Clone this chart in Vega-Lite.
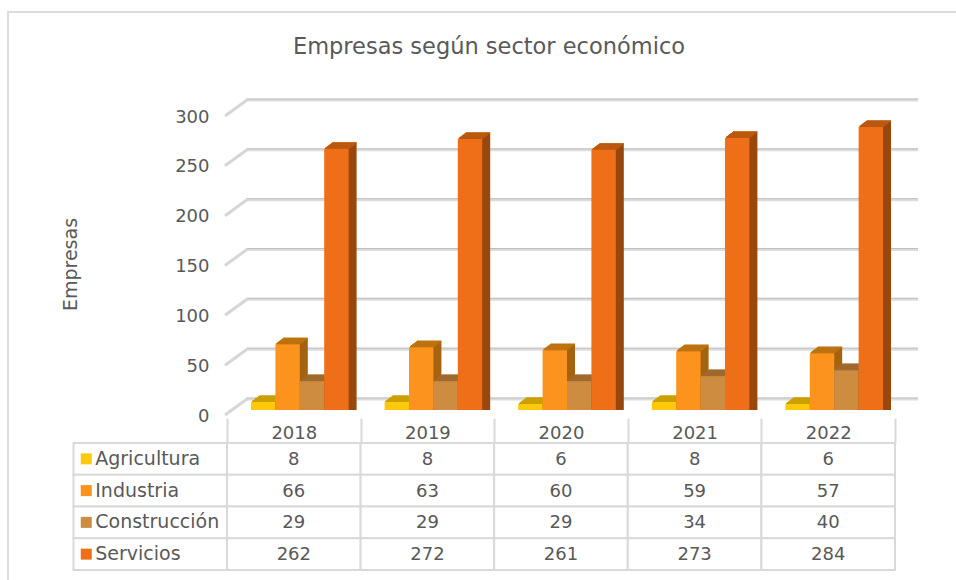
{"$schema":"https://vega.github.io/schema/vega-lite/v6.json","autosize":{"type":"none"},"width":950,"height":570,"padding":{"left":8,"top":12,"right":0,"bottom":0},"background":"white","view":{"stroke":"#dcdcdc","strokeWidth":2,"fill":"white"},"config":{"font":"DejaVu Sans","text":{"font":"DejaVu Sans"}},"title":{"text":"Empresas según sector económico","font":"DejaVu Sans","fontSize":22.5,"fontWeight":"normal","color":"#595959","anchor":"middle","frame":"group","offset":-46,"dx":6},
"datasets":{"d":[
{"year":"2018","sector":"Agricultura","empresas":8},{"year":"2018","sector":"Industria","empresas":66},{"year":"2018","sector":"Construcción","empresas":29},{"year":"2018","sector":"Servicios","empresas":262},
{"year":"2019","sector":"Agricultura","empresas":8},{"year":"2019","sector":"Industria","empresas":63},{"year":"2019","sector":"Construcción","empresas":29},{"year":"2019","sector":"Servicios","empresas":272},
{"year":"2020","sector":"Agricultura","empresas":6},{"year":"2020","sector":"Industria","empresas":60},{"year":"2020","sector":"Construcción","empresas":29},{"year":"2020","sector":"Servicios","empresas":261},
{"year":"2021","sector":"Agricultura","empresas":8},{"year":"2021","sector":"Industria","empresas":59},{"year":"2021","sector":"Construcción","empresas":34},{"year":"2021","sector":"Servicios","empresas":273},
{"year":"2022","sector":"Agricultura","empresas":6},{"year":"2022","sector":"Industria","empresas":57},{"year":"2022","sector":"Construcción","empresas":40},{"year":"2022","sector":"Servicios","empresas":284}],
"g":[{"level":0},{"level":50},{"level":100},{"level":150},{"level":200},{"level":250},{"level":300}],
"s":[{"sector":"Agricultura"},{"sector":"Industria"},{"sector":"Construcción"},{"sector":"Servicios"}]},
"layer":[
{"data":{"name":"g"},"encoding":{"x":{"datum":"back","type":"nominal","scale":{"type":"point","domain":["back","right"],"range":[238.5,910],"padding":0},"axis":null},"x2":{"datum":"right"},"y":{"field":"level","type":"quantitative","scale":{"domain":[0,300],"range":[398,99],"nice":false,"zero":false},"axis":null}},"layer":[{"mark":{"type":"rule","stroke":"#dcdcdc","strokeWidth":3,"yOffset":-11,"y2Offset":-11}},{"mark":{"type":"rule","stroke":"#c0c0c0","strokeWidth":1,"yOffset":-12,"y2Offset":-12}}]},
{"data":{"name":"g"},"mark":{"type":"rule","stroke":"#d6d6d6","strokeWidth":3,"yOffset":5,"y2Offset":-11},"encoding":{"x":{"datum":"front","type":"nominal","scale":{"type":"point","domain":["front","back"],"range":[217,239],"padding":0},"axis":null},"x2":{"datum":"back"},"y":{"field":"level","type":"quantitative","scale":{"domain":[0,300],"range":[398,99],"nice":false,"zero":false},"axis":null},"y2":{"field":"level"}}},
{"data":{"name":"d"},"encoding":{"x":{"field":"year","type":"nominal","scale":{"type":"band","paddingInner":0,"paddingOuter":0,"range":[219,887]},"axis":{"title":null,"orient":"bottom","offset":-164,"labelPadding":-19,"labelAngle":0,"labelFont":"DejaVu Sans","labelFontSize":18,"labelColor":"#595959","domain":false,"ticks":true,"tickBand":"extent","tickSize":25,"tickColor":"#d9d9d9","tickWidth":2,"grid":false}},"y":{"field":"empresas","type":"quantitative","stack":null,"scale":{"domain":[0,300],"range":[398,99],"nice":false,"zero":false},"axis":{"title":"Empresas","titleFont":"DejaVu Sans","titleFontSize":19,"titleFontWeight":"normal","titleColor":"#595959","titleX":-147,"titleY":252,"offset":-219,"labelFont":"DejaVu Sans","labelFontSize":18,"labelColor":"#595959","labelPadding":18,"labelOffset":6,"ticks":false,"domain":false,"grid":false,"values":[0,50,100,150,200,250,300]}}},
"layer":[
{"encoding":{"color":{"field":"sector","scale":{"domain":["Agricultura","Industria","Construcción","Servicios"],"range":["#A58000","#A5630F","#8C5A25","#99480D"]},"legend":null}},"layer":[
{"mark":{"type":"bar","yOffset":-6},"encoding":{"xOffset":{"field":"sector","scale":{"type":"band","domain":["Agricultura","Industria","Construcción","Servicios"],"range":[32,129.6],"paddingInner":0,"paddingOuter":0}}}},
{"mark":{"type":"bar","yOffset":-5.25},"encoding":{"xOffset":{"field":"sector","scale":{"type":"band","domain":["Agricultura","Industria","Construcción","Servicios"],"range":[31,128.6],"paddingInner":0,"paddingOuter":0}}}},
{"mark":{"type":"bar","yOffset":-4.5},"encoding":{"xOffset":{"field":"sector","scale":{"type":"band","domain":["Agricultura","Industria","Construcción","Servicios"],"range":[30,127.6],"paddingInner":0,"paddingOuter":0}}}},
{"mark":{"type":"bar","yOffset":-3.75},"encoding":{"xOffset":{"field":"sector","scale":{"type":"band","domain":["Agricultura","Industria","Construcción","Servicios"],"range":[29,126.6],"paddingInner":0,"paddingOuter":0}}}},
{"mark":{"type":"bar","yOffset":-3},"encoding":{"xOffset":{"field":"sector","scale":{"type":"band","domain":["Agricultura","Industria","Construcción","Servicios"],"range":[28,125.6],"paddingInner":0,"paddingOuter":0}}}},
{"mark":{"type":"bar","yOffset":-2.25},"encoding":{"xOffset":{"field":"sector","scale":{"type":"band","domain":["Agricultura","Industria","Construcción","Servicios"],"range":[27,124.6],"paddingInner":0,"paddingOuter":0}}}},
{"mark":{"type":"bar","yOffset":-1.5},"encoding":{"xOffset":{"field":"sector","scale":{"type":"band","domain":["Agricultura","Industria","Construcción","Servicios"],"range":[26,123.6],"paddingInner":0,"paddingOuter":0}}}},
{"mark":{"type":"bar","yOffset":-0.75},"encoding":{"xOffset":{"field":"sector","scale":{"type":"band","domain":["Agricultura","Industria","Construcción","Servicios"],"range":[25,122.6],"paddingInner":0,"paddingOuter":0}}}}],"resolve":{"scale":{"xOffset":"independent"}}},
{"encoding":{"y2":{"field":"empresas"},"stroke":{"field":"sector","scale":{"domain":["Agricultura","Industria","Construcción","Servicios"],"range":["#CCA000","#BE7310","#A06A2E","#BC5A10"]},"legend":null}},"layer":[
{"mark":{"type":"bar","yOffset":-6,"y2Offset":-6,"strokeWidth":1},"encoding":{"xOffset":{"field":"sector","scale":{"type":"band","domain":["Agricultura","Industria","Construcción","Servicios"],"range":[32,129.6],"paddingInner":0,"paddingOuter":0}}}},
{"mark":{"type":"bar","yOffset":-5.25,"y2Offset":-5.25,"strokeWidth":1},"encoding":{"xOffset":{"field":"sector","scale":{"type":"band","domain":["Agricultura","Industria","Construcción","Servicios"],"range":[31,128.6],"paddingInner":0,"paddingOuter":0}}}},
{"mark":{"type":"bar","yOffset":-4.5,"y2Offset":-4.5,"strokeWidth":1},"encoding":{"xOffset":{"field":"sector","scale":{"type":"band","domain":["Agricultura","Industria","Construcción","Servicios"],"range":[30,127.6],"paddingInner":0,"paddingOuter":0}}}},
{"mark":{"type":"bar","yOffset":-3.75,"y2Offset":-3.75,"strokeWidth":1},"encoding":{"xOffset":{"field":"sector","scale":{"type":"band","domain":["Agricultura","Industria","Construcción","Servicios"],"range":[29,126.6],"paddingInner":0,"paddingOuter":0}}}},
{"mark":{"type":"bar","yOffset":-3,"y2Offset":-3,"strokeWidth":1},"encoding":{"xOffset":{"field":"sector","scale":{"type":"band","domain":["Agricultura","Industria","Construcción","Servicios"],"range":[28,125.6],"paddingInner":0,"paddingOuter":0}}}},
{"mark":{"type":"bar","yOffset":-2.25,"y2Offset":-2.25,"strokeWidth":1},"encoding":{"xOffset":{"field":"sector","scale":{"type":"band","domain":["Agricultura","Industria","Construcción","Servicios"],"range":[27,124.6],"paddingInner":0,"paddingOuter":0}}}},
{"mark":{"type":"bar","yOffset":-1.5,"y2Offset":-1.5,"strokeWidth":1},"encoding":{"xOffset":{"field":"sector","scale":{"type":"band","domain":["Agricultura","Industria","Construcción","Servicios"],"range":[26,123.6],"paddingInner":0,"paddingOuter":0}}}},
{"mark":{"type":"bar","yOffset":-0.75,"y2Offset":-0.75,"strokeWidth":1},"encoding":{"xOffset":{"field":"sector","scale":{"type":"band","domain":["Agricultura","Industria","Construcción","Servicios"],"range":[25,122.6],"paddingInner":0,"paddingOuter":0}}}}],"resolve":{"scale":{"xOffset":"independent"}}},
{"mark":{"type":"bar"},"encoding":{"xOffset":{"field":"sector","scale":{"type":"band","domain":["Agricultura","Industria","Construcción","Servicios"],"range":[24,121.6],"paddingInner":0,"paddingOuter":0}},"fill":{"field":"sector","scale":{"domain":["Agricultura","Industria","Construcción","Servicios"],"range":["#FFC90B","#FB931C","#CD8C40","#EE6F17"]},"legend":null}}}
],"resolve":{"scale":{"color":"independent","fill":"independent","stroke":"independent","xOffset":"independent"}}},
{"data":{"name":"d"},"encoding":{"x":{"field":"year","type":"nominal","scale":{"type":"band","paddingInner":0,"paddingOuter":0,"range":[219,887]},"axis":null},"y":{"field":"sector","type":"nominal","sort":["Agricultura","Industria","Construcción","Servicios"],"scale":{"type":"band","domain":["Agricultura","Industria","Construcción","Servicios"],"range":[431,558],"paddingInner":0,"paddingOuter":0},"axis":null}},"layer":[
{"mark":{"type":"rect","fill":"white","stroke":"#d9d9d9","strokeWidth":2}},
{"mark":{"type":"text","font":"DejaVu Sans","fontSize":18,"color":"#595959","dy":1},"encoding":{"text":{"field":"empresas","type":"quantitative"}}}
]},
{"data":{"name":"s"},"encoding":{"x":{"datum":"Sector","type":"nominal","scale":{"type":"band","domain":["Sector"],"range":[65.5,219],"paddingInner":0,"paddingOuter":0},"axis":null},"y":{"field":"sector","type":"nominal","sort":["Agricultura","Industria","Construcción","Servicios"],"scale":{"type":"band","domain":["Agricultura","Industria","Construcción","Servicios"],"range":[431,558],"paddingInner":0,"paddingOuter":0},"axis":null}},"layer":[
{"mark":{"type":"rect","fill":"white","stroke":"#d9d9d9","strokeWidth":2}},
{"mark":{"type":"point","shape":"square","filled":true,"opacity":1,"size":121,"xOffset":-64},"encoding":{"color":{"field":"sector","scale":{"domain":["Agricultura","Industria","Construcción","Servicios"],"range":["#FFC90B","#FB931C","#CD8C40","#EE6F17"]},"legend":null}}},
{"mark":{"type":"text","align":"left","font":"DejaVu Sans","fontSize":19,"color":"#595959","xOffset":-55,"dy":0},"encoding":{"text":{"field":"sector","type":"nominal"}}}
]}
],"resolve":{"scale":{"x":"independent","y":"independent","color":"independent","fill":"independent","stroke":"independent","xOffset":"independent"},"axis":{"x":"independent","y":"independent"}}}
